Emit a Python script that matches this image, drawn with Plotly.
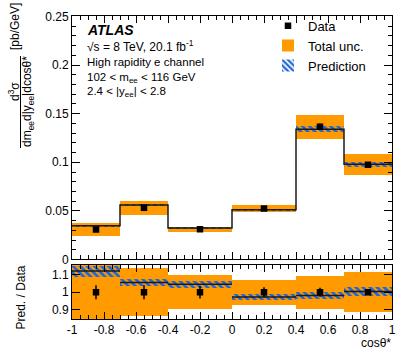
import plotly.graph_objects as go

# bins in cos(theta*)
bin_edges = [-1.0, -0.7, -0.4, 0.0, 0.4, 0.7, 1.0]
bin_centers = [-0.85, -0.55, -0.2, 0.2, 0.55, 0.85]
bin_widths = [0.3, 0.3, 0.4, 0.4, 0.3, 0.3]

# measured cross section [pb/GeV]
data_vals = [0.0309, 0.0532, 0.0310, 0.0525, 0.1366, 0.0975]
data_stat_rel = [0.040, 0.040, 0.035, 0.028, 0.025, 0.015]
data_tot_rel = [0.23, 0.135, 0.095, 0.072, 0.092, 0.112]

# prediction
pred_vals = [0.0346, 0.0561, 0.0324, 0.0511, 0.1341, 0.0979]
pred_unc_rel = [0.028, 0.020, 0.020, 0.020, 0.022, 0.025]

x_tick_vals = [-1, -0.8, -0.6, -0.4, -0.2, 0, 0.2, 0.4, 0.6, 0.8, 1]
x_tick_labels = ['-1', '-0.8', '-0.6', '-0.4', '-0.2', '0', '0.2', '0.4', '0.6', '0.8', '1']
ratio_tick_vals = [0.9, 1.0, 1.1]
ratio_tick_labels = ['0.9', '1', '1.1']

ORANGE = '#FF9A00'
BLUE = '#1f66d9'
FONT = 'Liberation Sans, Arial, sans-serif'

ratio_vals = [p / d for p, d in zip(pred_vals, data_vals)]

hatch = dict(color='rgba(0,0,0,0)', line=dict(width=0),
             pattern=dict(shape='\\', fgcolor=BLUE, fgopacity=1, size=5, solidity=0.55,
                          fillmode='overlay'))

fig = go.Figure()

# ---- main panel ----
fig.add_trace(go.Bar(
    x=bin_centers, width=bin_widths,
    base=[d * (1 - r) for d, r in zip(data_vals, data_tot_rel)],
    y=[2 * d * r for d, r in zip(data_vals, data_tot_rel)],
    marker=dict(color=ORANGE, line=dict(width=0)),
    name='Total unc.', legendrank=2, xaxis='x', yaxis='y'
))
fig.add_trace(go.Bar(
    x=bin_centers, width=bin_widths,
    base=[p * (1 - r) for p, r in zip(pred_vals, pred_unc_rel)],
    y=[2 * p * r for p, r in zip(pred_vals, pred_unc_rel)],
    marker=hatch, name='Prediction', legendrank=3, xaxis='x', yaxis='y'
))
fig.add_trace(go.Scatter(
    x=bin_edges, y=pred_vals + [pred_vals[-1]],
    mode='lines', line=dict(shape='hv', color='#1a1a1a', width=1.5),
    showlegend=False, xaxis='x', yaxis='y'
))
fig.add_trace(go.Scatter(
    x=bin_centers, y=data_vals, mode='markers',
    marker=dict(symbol='square', size=6.5, color='black'),
    error_y=dict(type='data', array=[d * r for d, r in zip(data_vals, data_stat_rel)],
                 color='black', thickness=1.5, width=0),
    name='Data', legendrank=1, xaxis='x', yaxis='y'
))

# ---- ratio panel ----
fig.add_trace(go.Bar(
    x=bin_centers, width=bin_widths,
    base=[1 - r for r in data_tot_rel], y=[2 * r for r in data_tot_rel],
    marker=dict(color=ORANGE, line=dict(width=0)),
    showlegend=False, xaxis='x2', yaxis='y2'
))
fig.add_trace(go.Bar(
    x=bin_centers, width=bin_widths,
    base=[v * (1 - r) for v, r in zip(ratio_vals, pred_unc_rel)],
    y=[2 * v * r for v, r in zip(ratio_vals, pred_unc_rel)],
    marker=hatch, showlegend=False, xaxis='x2', yaxis='y2'
))
seg_x, seg_y = [], []
for i, v in enumerate(ratio_vals):
    seg_x += [bin_edges[i], bin_edges[i + 1], None]
    seg_y += [v, v, None]
fig.add_trace(go.Scatter(
    x=seg_x, y=seg_y, mode='lines', line=dict(color='#1a1a1a', width=1.5),
    showlegend=False, xaxis='x2', yaxis='y2'
))
fig.add_trace(go.Scatter(
    x=bin_centers, y=[1.0] * len(bin_centers), mode='markers',
    marker=dict(symbol='square', size=6.5, color='black'),
    error_y=dict(type='data', array=data_stat_rel, color='black', thickness=1.5, width=0),
    showlegend=False, xaxis='x2', yaxis='y2'
))

axis_common = dict(showline=True, linecolor='black', linewidth=1, mirror='allticks',
                   ticks='inside', tickcolor='black', showgrid=False, zeroline=False,
                   automargin=False,
                   tickfont=dict(family=FONT, size=12, color='black'))

fig.update_layout(
    width=399, height=353,
    margin=dict(l=72, r=7, t=16, b=34),
    paper_bgcolor='white', plot_bgcolor='white',
    barmode='overlay', bargap=0,
    font=dict(family=FONT, size=12, color='black'),
    xaxis=dict(domain=[0, 1], range=[-1, 1], anchor='y', showticklabels=False,
               tick0=-1, dtick=0.2, ticklen=7,
               minor=dict(ticks='inside', dtick=0.05, ticklen=4, tickcolor='black'),
               **axis_common),
    yaxis=dict(domain=[0.1964, 1], range=[0, 0.2505], anchor='x',
               tick0=0, dtick=0.05, ticklen=8,
               minor=dict(ticks='inside', dtick=0.01, ticklen=4, tickcolor='black'),
               **axis_common),
    xaxis2=dict(domain=[0, 1], range=[-1, 1], anchor='y2',
                tickvals=x_tick_vals, ticktext=x_tick_labels, ticklen=7,
                minor=dict(ticks='inside', dtick=0.05, ticklen=4, tickcolor='black'),
                **axis_common),
    yaxis2=dict(domain=[0, 0.1782], range=[0.849, 1.154], anchor='x2',
                tickvals=ratio_tick_vals, ticktext=ratio_tick_labels, ticklen=8,
                **axis_common),
    legend=dict(x=0.6125, y=0.902, xanchor='left', yanchor='middle',
                bgcolor='rgba(0,0,0,0)', font=dict(family=FONT, size=13),
                traceorder='normal', itemwidth=30),
)

def px_x(px):
    return (px - 72) / 320.0

def px_y(py):
    return (319 - py) / 303.0

texts = [
    ('<b><i>ATLAS</i></b>', 85, 30, 14),
    ('√s = 8 TeV, 20.1 fb<sup>-1</sup>', 85, 45.5, 12),
    ('High rapidity e channel', 85, 62, 11.5),
    ('102 &lt; m<sub>ee</sub> &lt; 116 GeV', 85, 78, 11.5),
    ('2.4 &lt; |y<sub>ee</sub>| &lt; 2.8', 85, 92, 11.5),
]
for t, x, y, s in texts:
    fig.add_annotation(text=t, x=px_x(x), y=px_y(y), xref='paper', yref='paper',
                       xanchor='left', yanchor='middle', showarrow=False,
                       font=dict(family=FONT, size=s, color='black'))

# y-axis title built as a fraction
fig.add_annotation(text='[pb/GeV]', x=px_x(15), y=px_y(27), xref='paper', yref='paper',
                   textangle=-90, showarrow=False, xanchor='center', yanchor='middle',
                   font=dict(family=FONT, size=12))
fig.add_annotation(text='d<sup>3</sup>σ', x=px_x(14), y=px_y(92), xref='paper', yref='paper',
                   textangle=-90, showarrow=False, xanchor='center', yanchor='middle',
                   font=dict(family=FONT, size=12))
fig.add_annotation(text='dm<sub>ee</sub>d|y<sub>ee</sub>|dcosθ*', x=px_x(28), y=px_y(102),
                   xref='paper', yref='paper', textangle=-90, showarrow=False,
                   xanchor='center', yanchor='middle', font=dict(family=FONT, size=12))
fig.add_shape(type='line', xref='paper', yref='paper',
              x0=px_x(20.5), x1=px_x(20.5), y0=px_y(56), y1=px_y(148),
              line=dict(color='black', width=1))

fig.add_annotation(text='Pred. / Data', x=px_x(20), y=px_y(297.5), xref='paper', yref='paper',
                   textangle=-90, showarrow=False, xanchor='center', yanchor='middle',
                   font=dict(family=FONT, size=12))
fig.add_annotation(text='cosθ*', x=px_x(393), y=px_y(342.5), xref='paper', yref='paper',
                   showarrow=False, xanchor='right', yanchor='middle',
                   font=dict(family=FONT, size=12))

fig.write_html('out.html', config={'displayModeBar': False},
               post_script="document.body.style.margin='0';")
